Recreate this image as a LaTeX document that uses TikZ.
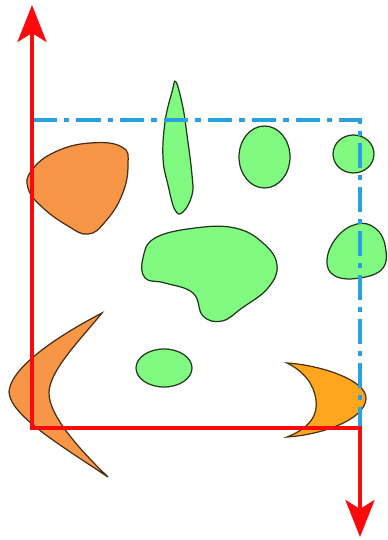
\documentclass[tikz,border=0pt]{standalone}
\usetikzlibrary{arrows.meta}
\definecolor{blobgreen}{RGB}{128,250,128}
\definecolor{blobedge}{RGB}{30,55,30}
\definecolor{orangeA}{RGB}{247,150,70}
\definecolor{orangeB}{RGB}{255,165,30}
\definecolor{axisred}{RGB}{250,10,10}
\definecolor{frameblue}{RGB}{40,160,225}
\tikzset{
  greenblob/.style={fill=blobgreen,draw=blobedge,line width=0.7pt},
  orangeblob/.style={fill=orangeA,draw=black!70!orangeA,line width=0.7pt},
  orangeblobB/.style={fill=orangeB,draw=black!70!orangeB,line width=0.7pt},
  framebox/.style={draw=frameblue,line width=2pt,dash pattern=on 14pt off 4pt on 3pt off 4pt},
  axisline/.style={draw=axisred,line width=2.2pt,{Stealth[length=21pt,width=16.5pt,inset=5pt]}-{Stealth[length=21pt,width=16.5pt,inset=5pt]}},
}
\begin{document}
\begin{tikzpicture}[x=0.02cm,y=-0.02cm]
\useasboundingbox (0,0) rectangle (387,540);
% orange blob top-left
\draw[orangeblob] plot[smooth cycle,tension=0.75] coordinates {(32,170) (55,152) (90,143) (122,147) (128,165) (122,195) (105,222) (88,234) (68,226) (42,207) (28,188)};
% thin green blob
\draw[greenblob] plot[smooth cycle,tension=0.7] coordinates {(176,82) (183,108) (187,135) (192,175) (192,195) (183,212) (175,210) (168,185) (163,158) (165,122) (172,92)};
% ellipses
\draw[greenblob] (264.5,157) ellipse [x radius=25.5, y radius=31];
\draw[greenblob] (353.5,154) ellipse [x radius=20.5, y radius=19];
\draw[greenblob] (164,368) ellipse [x radius=28, y radius=19];
% central blob
\draw[greenblob] plot[smooth cycle,tension=0.7] coordinates {(143,258) (155,238) (195,228) (235,228) (263,243) (277,265) (268,288) (242,308) (222,321) (203,316) (193,293) (165,283) (145,278)};
% right blob
\draw[greenblob] plot[smooth cycle,tension=0.7] coordinates {(327,260) (337,237) (357,224) (375,228) (385,245) (383,268) (360,278) (335,276)};
% left boomerang
\draw[orangeblob] (102,313) .. controls (50,340) and (10,370) .. (9,392) .. controls (10,415) and (60,445) .. (108,477) .. controls (80,450) and (48,415) .. (49,392) .. controls (50,370) and (80,340) .. (102,313) -- cycle;
% right boomerang
\draw[orangeblobB] (287,363) .. controls (320,365) and (366,380) .. (366,398) .. controls (366,420) and (320,435) .. (287,437) .. controls (310,428) and (318,415) .. (316,400) .. controls (314,385) and (305,372) .. (287,363) -- cycle;
% frame
\coordinate (ftl) at (32,120);
\coordinate (ftr) at (360,120);
\coordinate (fbr) at (360,428);
\draw[framebox] (ftl) -- (ftr) -- (fbr);
% axes
\coordinate (top) at (32,5);
\coordinate (corner) at (32,428);
\coordinate (corner2) at (360,428);
\coordinate (bottom) at (360,537);
\draw[axisline] (top) -- (corner) -- (corner2) -- (bottom);
\end{tikzpicture}
\end{document}
